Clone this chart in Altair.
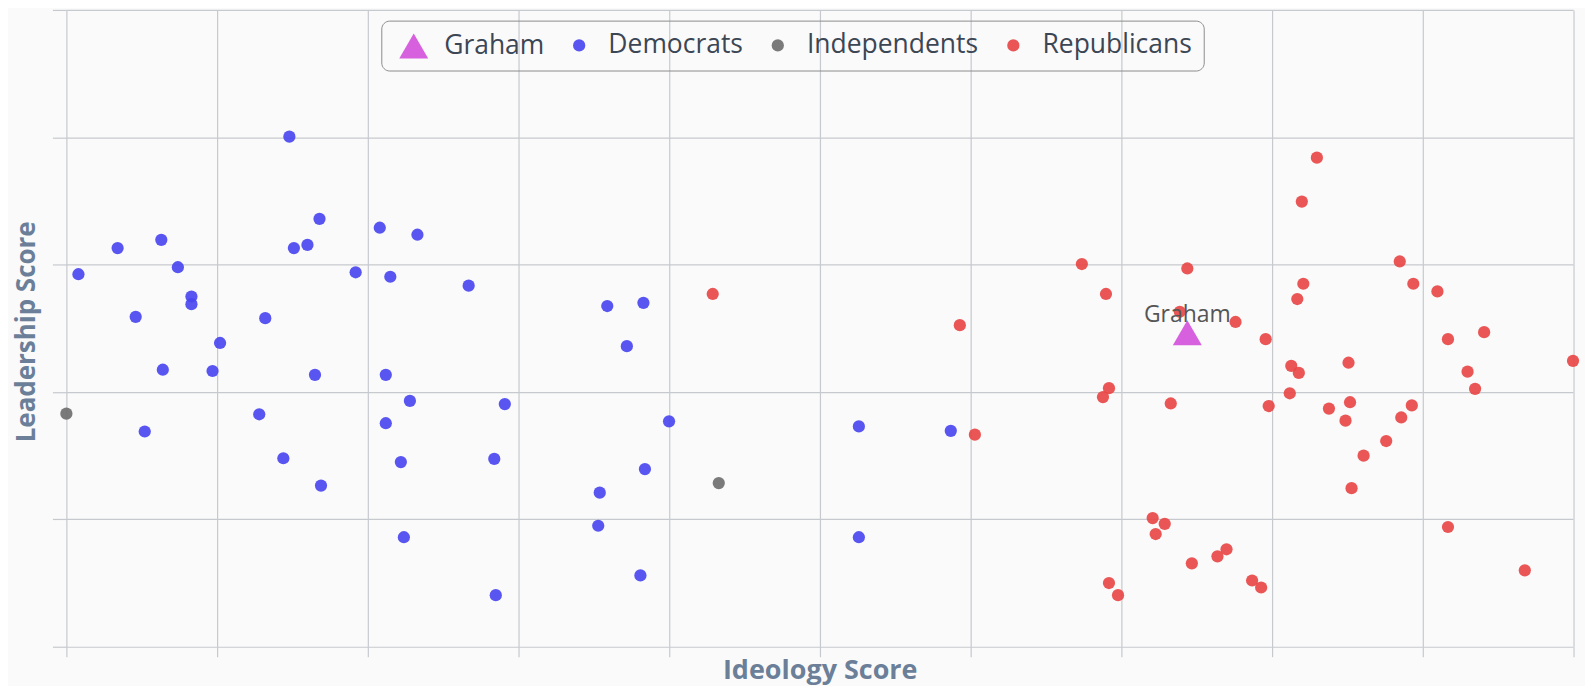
import altair as alt
import pandas as pd

# ---- data (GovTrack-style scores, 0..1) ----
dem_x = [0.008, 0.034, 0.063, 0.074, 0.083, 0.083, 0.046, 0.102, 0.064, 0.097, 0.052,
         0.148, 0.168, 0.151, 0.160, 0.132, 0.165, 0.128, 0.144, 0.169,
         0.208, 0.233, 0.192, 0.215, 0.212, 0.228, 0.212, 0.222, 0.224,
         0.267, 0.291, 0.284, 0.285,
         0.359, 0.383, 0.372, 0.400, 0.384, 0.354, 0.353, 0.381,
         0.526, 0.587, 0.526]
dem_y = [0.585, 0.626, 0.639, 0.596, 0.550, 0.538, 0.518, 0.477, 0.435, 0.433, 0.338,
         0.801, 0.672, 0.626, 0.631, 0.516, 0.427, 0.365, 0.296, 0.253,
         0.658, 0.647, 0.588, 0.581, 0.427, 0.386, 0.351, 0.290, 0.172,
         0.567, 0.381, 0.295, 0.081,
         0.535, 0.540, 0.472, 0.354, 0.279, 0.242, 0.190, 0.112,
         0.346, 0.339, 0.172]

ind_x = [0.000, 0.433]
ind_y = [0.366, 0.257]

rep_x = [0.429, 0.593, 0.603, 0.674, 0.690, 0.692, 0.688, 0.733, 0.744, 0.739,
         0.776, 0.796, 0.830, 0.820, 0.821, 0.817, 0.813, 0.818, 0.812, 0.798,
         0.838, 0.851, 0.852, 0.849, 0.861, 0.853, 0.885, 0.894, 0.910, 0.917,
         0.941, 0.930, 0.935, 0.893, 0.886, 0.876, 1.000, 0.917, 0.968,
         0.721, 0.729, 0.723, 0.747, 0.764, 0.770, 0.692, 0.698, 0.787, 0.793]
rep_y = [0.554, 0.505, 0.333, 0.601, 0.554, 0.406, 0.392, 0.382, 0.594, 0.526,
         0.510, 0.483, 0.768, 0.699, 0.570, 0.546, 0.441, 0.430, 0.398, 0.378,
         0.374, 0.446, 0.384, 0.355, 0.300, 0.249, 0.605, 0.570, 0.558, 0.483,
         0.494, 0.432, 0.405, 0.379, 0.360, 0.323, 0.449, 0.188, 0.120,
         0.202, 0.193, 0.177, 0.131, 0.142, 0.153, 0.100, 0.081, 0.104, 0.093]

graham_x = [0.744]
graham_y = [0.493]
graham_name = ["Graham"]

groups = ["Graham", "Democrats", "Independents", "Republicans"]
group_colors = ["#d452dc", "#4a47f0", "#6f6f6f", "#e84848"]
group_shapes = ["triangle-up", "circle", "circle", "circle"]
group_sizes = [841, 150, 150, 150]

x_ticks = [0.0, 0.1, 0.2, 0.3, 0.4, 0.5, 0.6, 0.7, 0.8, 0.9, 1.0]
y_ticks = [0.0, 0.2, 0.4, 0.6, 0.8, 1.0]

rows = []
for xs, ys, g in [(dem_x, dem_y, "Democrats"), (ind_x, ind_y, "Independents"),
                  (rep_x, rep_y, "Republicans")]:
    for a, b in zip(xs, ys):
        rows.append({"ideology": a, "leadership": b, "group": g, "name": ""})
for a, b, n in zip(graham_x, graham_y, graham_name):
    rows.append({"ideology": a, "leadership": b, "group": "Graham", "name": n})
df = pd.DataFrame(rows)

GRID = "#c6c9ce"
TITLE_COLOR = "#6b7f99"
FONT = "Open Sans"

legend = alt.Legend(
    title=None, orient="none", legendX=315.5, legendY=10.7, direction="horizontal",
    labelFont=FONT, labelFontSize=26.5, labelColor="#3c4654", labelOffset=16,
    symbolOffset=7, labelLimit=400, columnPadding=14, padding=11,
    strokeColor="#8c8c8c", cornerRadius=8, symbolStrokeWidth=0,
)

x_enc = alt.X("ideology:Q",
              scale=alt.Scale(domain=[0, 1], nice=False, zero=False),
              axis=alt.Axis(values=x_ticks, labels=False, domain=False, tickSize=10,
                            tickColor=GRID, gridColor=GRID, gridWidth=1.2, tickWidth=1.2,
                            title="Ideology Score", titleFont=FONT, titleFontSize=27,
                            titleFontWeight="bold", titleColor=TITLE_COLOR,
                            titleBaseline="alphabetic", titleY=31.5))
y_enc = alt.Y("leadership:Q",
              scale=alt.Scale(domain=[0, 1], nice=False, zero=False),
              axis=alt.Axis(values=y_ticks, labels=False, domain=False, tickSize=14,
                            tickColor=GRID, gridColor=GRID, gridWidth=1.2, tickWidth=1.2,
                            title="Leadership Score", titleFont=FONT, titleFontSize=26,
                            titleFontWeight="bold", titleColor=TITLE_COLOR,
                            titleAngle=270, titleBaseline="middle", titleAlign="center",
                            titleX=-40, titleY=322))

points = alt.Chart(df).mark_point(filled=True, opacity=0.92).encode(
    x=x_enc,
    y=y_enc,
    color=alt.Color("group:N", scale=alt.Scale(domain=groups, range=group_colors), legend=legend),
    shape=alt.Shape("group:N", scale=alt.Scale(domain=groups, range=group_shapes), legend=legend),
    size=alt.Size("group:N", scale=alt.Scale(type="ordinal", domain=groups, range=group_sizes),
                  legend=legend),
)

label = alt.Chart(df).transform_filter(alt.datum.name != "").mark_text(
    dy=-11, fontSize=23, font=FONT, color="#555555", align="center", baseline="alphabetic"
).encode(x="ideology:Q", y="leadership:Q", text="name:N")

chart = alt.layer(points, label).properties(
    width=1509.5, height=638,
    autosize=alt.AutoSizeParams(type="none"),
    padding={"left": 58.5, "top": 1.3, "right": 12, "bottom": 38.5},
    background="#fafafa",
).configure_view(stroke=None)

chart.save("out.html", embed_options={"renderer": "svg", "actions": False})
